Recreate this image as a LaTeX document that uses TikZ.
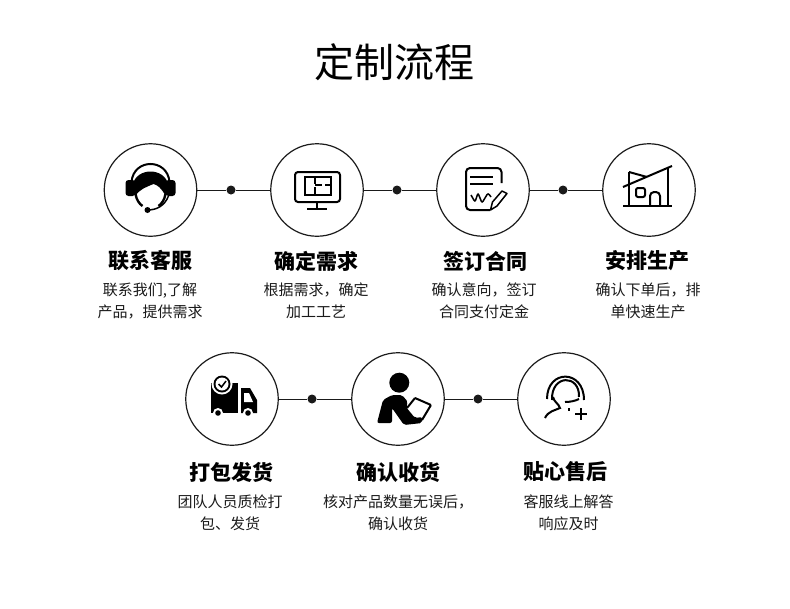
\documentclass[tikz,border=0pt]{standalone}
\usepackage{fontspec}
\setmainfont{Noto Sans CJK SC}
\definecolor{inkblack}{HTML}{1A1A1A}
\newcommand{\widecomma}{\symbol{"FF0C}}
\tikzset{
	stepcircle/.style={draw=inkblack,circle,line width=1.2pt,minimum size=92.5pt,inner sep=0pt},
	stepdot/.style={fill=inkblack,circle,minimum size=9pt,inner sep=0pt},
	steplink/.style={draw=inkblack,line width=1pt},
	steptitle/.style={text=black,font=\fontsize{21}{24}\selectfont\bfseries},
	stepdesc/.style={text=inkblack,align=center,font=\fontsize{15}{22}\selectfont},
	iconline/.style={draw=black,line width=2pt,fill=none},
	iconfill/.style={fill=black,draw=none}
}
\begin{document}
\begin{tikzpicture}[x=1pt,y=-1pt]
	\useasboundingbox (0,0) rectangle (790,608);
	\node[text=black,font=\fontsize{40}{44}\selectfont] (heading) at (394,62) {定制流程};

	\foreach \name/\x/\y in {contact/150.5/190,demand/317/190,sign/483/190,produce/649/190,pack/232/399,receive/398/399,service/564/399}
		\node[stepcircle] (\name) at (\x,\y) {};

	\node[stepdot] (dota) at (231,190) {};
	\node[stepdot] (dotb) at (397,190) {};
	\node[stepdot] (dotc) at (563,190) {};
	\node[stepdot] (dotd) at (312,399) {};
	\node[stepdot] (dote) at (478,399) {};
	\draw[steplink] (contact) -- (dota) -- (demand);
	\draw[steplink] (demand) -- (dotb) -- (sign);
	\draw[steplink] (sign) -- (dotc) -- (produce);
	\draw[steplink] (pack) -- (dotd) -- (receive);
	\draw[steplink] (receive) -- (dote) -- (service);

	\node[steptitle] (contacttitle) at (150.5,261) {联系客服};
	\node[steptitle] (demandtitle) at (316,261) {确定需求};
	\node[steptitle] (signtitle) at (485,261) {签订合同};
	\node[steptitle] (producetitle) at (647,261) {安排生产};
	\node[steptitle] (packtitle) at (231,472) {打包发货};
	\node[steptitle] (receivetitle) at (398,472) {确认收货};
	\node[steptitle] (servicetitle) at (565,471) {贴心售后};

	\node[stepdesc] (contactdesc) at (150,301) {联系我们,了解\\产品\widecomma 提供需求};
	\node[stepdesc] (demanddesc) at (316,301) {根据需求\widecomma 确定\\加工工艺};
	\node[stepdesc] (signdesc) at (484,301) {确认意向\widecomma 签订\\合同支付定金};
	\node[stepdesc] (producedesc) at (648,301) {确认下单后\widecomma 排\\单快速生产};
	\node[stepdesc] (packdesc) at (230,513) {团队人员质检打\\包、发货};
	\node[stepdesc] (receivedesc) at (398,513) {核对产品数量无误后\widecomma\\确认收货};
	\node[stepdesc] (servicedesc) at (568.5,513) {客服线上解答\\响应及时};

	% headset
	\begin{scope}[shift={(contact)}]
		\draw[iconline] (-19,-8) .. controls (-17,-32) and (17,-32) .. (19,-8);
		\fill[iconfill,rounded corners=3pt] (-25,-10) rectangle (-15,6);
		\fill[iconfill,rounded corners=3pt] (15,-10) rectangle (25,6);
		\fill[iconfill] (-18,-5) .. controls (-14,-23) and (14,-23) .. (18,-5) -- (15,6) .. controls (11,-2) and (7,-5) .. (3,-6) .. controls (-4,-3) and (-11,-1) .. (-15,6) -- cycle;
		\draw[iconline,line width=2.4pt] (-15,4) .. controls (-14,10) and (-11,14) .. (-8,16);
		\draw[iconline,line width=2.4pt] (15,4) .. controls (14,10) and (11,14) .. (8,16);
		\draw[iconline,line width=1.5pt] (-3,20) .. controls (6,20) and (14,16) .. (18,6);
		\fill[iconfill] (-3,20) circle (3);
	\end{scope}

	% monitor
	\begin{scope}[shift={(demand)}]
		\draw[iconline,rounded corners=3pt] (-22,-18) rectangle (23,12);
		\draw[iconline] (-12,-13) rectangle (14,5);
		\draw[iconline] (-2,-13) -- (-2,-6);
		\draw[iconline] (-2,-3) -- (-2,5);
		\draw[iconline] (-2,-5) -- (5,-5);
		\draw[iconline] (8,-5) -- (14,-5);
		\draw[iconline] (0,12) -- (0,19);
		\draw[iconline] (-10,19) -- (10,19);
	\end{scope}

	% contract
	\begin{scope}[shift={(sign)}]
		\draw[iconline,rounded corners=4pt] (18.5,-7) -- (18.5,-22) -- (-17,-22) -- (-17,20) -- (7,20);
		\draw[iconline] (-13,-13) -- (10,-13);
		\draw[iconline] (-13,-6) -- (10,-6);
		\draw[iconline,line width=1.5pt,rounded corners=2pt] (-12,5) -- (-8,12) -- (-5,3) -- (-1,13) -- (5,3) -- (8,7);
		\draw[iconline,line width=1.5pt,line join=round] (7.5,20) -- (9.5,12) -- (19,1) -- (24,3.5) -- (14,16) -- cycle;
	\end{scope}

	% workshop
	\begin{scope}[shift={(produce)}]
		\draw[iconline] (-26,16) -- (23,16);
		\draw[iconline] (-26,-3) -- (23,-24);
		\draw[iconline] (19,-23) -- (19,16);
		\draw[iconline] (-20,-18) -- (-20,16);
		\draw[iconline] (-20,-18) -- (-2,-13);
		\draw[iconline,rounded corners=2pt] (-13,-2) rectangle (-4,7);
		\draw[iconline,rounded corners=4pt] (1,16) -- (1,2) -- (11,2) -- (11,16);
	\end{scope}

	% truck
	\begin{scope}[shift={(pack)}]
		\fill[iconfill] (-21,-16) rectangle (6,14);
		\fill[white] (-10,-15) circle (10.5);
		\fill[iconfill] (-10,-15) circle (8.5);
		\fill[white] (-10,-15) circle (6.5);
		\draw[black,line width=1.5pt] (-13.5,-15) -- (-10.5,-12) -- (-6,-18);
		\fill[iconfill] (9,-11) -- (18,-11) -- (25,1) -- (25,14) -- (9,14) -- cycle;
		\fill[white] (12,-6) -- (17,-6) -- (21,3) -- (12,3) -- cycle;
		\fill[white] (-14,14) circle (5);
		\fill[iconfill] (-14,14) circle (2.8);
		\fill[white] (16,14) circle (5);
		\fill[iconfill] (16,14) circle (2.8);
	\end{scope}

	% person with tablet
	\begin{scope}[shift={(receive)}]
		\fill[iconfill] (1.3,-16.3) circle (10);
		\fill[iconfill,rounded corners=2pt] (-21,24) -- (-15,1) -- (-6,-4) -- (4,-4) -- (10,3) -- (8,8) -- (17,19) -- (24,18) -- (24,24) -- (6,26) -- (-6,9) -- (-6,24) -- cycle;
		\draw[iconline,rounded corners=1pt] (17,-1) -- (33,6) -- (24,21);
		\draw[iconline,rounded corners=1pt] (17,-1) -- (9,9);
	\end{scope}

	% support agent
	\begin{scope}[shift={(service)}]
		\draw[iconline] (-17,0) .. controls (-17,-30) and (20,-30) .. (20,1);
		\draw[iconline] (-12,1) .. controls (-13,-25) and (16,-25) .. (15,-2);
		\draw[iconline] (-19,19) .. controls (-16,12) and (-8,11) .. (-4,9) .. controls (-5,5) and (-10,3) .. (-11,-2);
		\draw[iconline] (1,3) .. controls (6,3) and (11,2) .. (15,0);
		\draw[iconline] (5,9) -- (5,12);
		\draw[iconline] (11,15) -- (23,15);
		\draw[iconline] (17,9) -- (17,21);
	\end{scope}
\end{tikzpicture}
\end{document}
